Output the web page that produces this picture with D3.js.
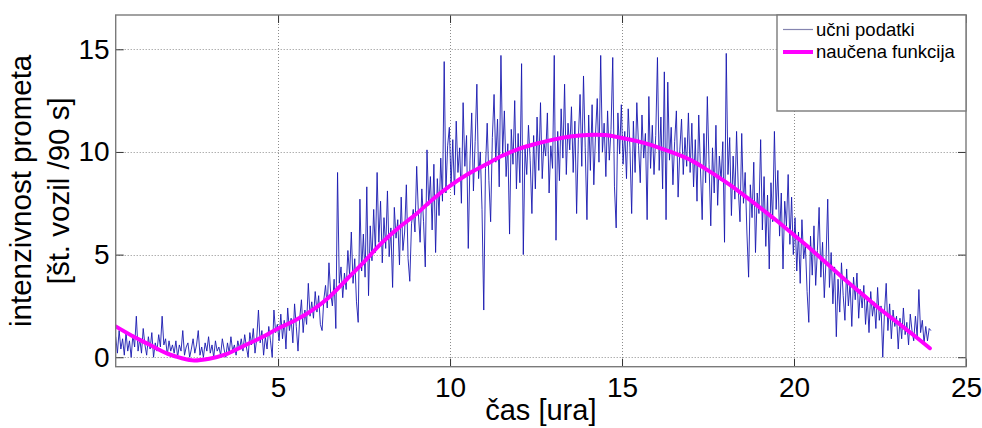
<!DOCTYPE html>
<html>
<head>
<meta charset="utf-8">
<script src="https://cdn.jsdelivr.net/npm/d3@7"></script>
<style>
  body { margin: 0; background: #fff; }
  svg { display: block; font-family: "Liberation Sans", Arial, sans-serif; }
</style>
</head>
<body>
<script>
// chart settings
var W = 982, H = 428;
var box = { left: 115.7, top: 15, right: 966, bottom: 366.7 };

// tick labels
var xTicks = [5, 10, 15, 20, 25];
var yTicks = [0, 5, 10, 15];

var sampleStart = 0.28, sampleStep = 0.05;
var sampleValues = [
  // 0.28 - 0.93
  1.0, 0.2, 1.3, 0.4, 0.9, 0.1, 1.2, 0.3, 0.8, 0.0, 1.1, 0.5, 2.0, 0.3,
  // 1
  0.9, 0.2, 1.4, 0.6, 0.1, 1.0, 0.4, 1.2, 0.0, 0.7, 0.3, 1.1, 0.5, 2.0, 0.6, 0.9, 0.1, 0.8, 0.3, 0.6,
  // 2
  0.2, 0.8, 0.0, 0.6, 0.3, 1.3, 0.1, 0.5, 0.7, 0.0, 0.4, 0.9, 0.2, 0.6, 1.3, 0.1, 0.5, 0.0, 0.7, 0.3,
  // 3
  1.0, 0.2, 0.6, 0.0, 0.8, 0.3, 0.5, 0.1, 0.9, 0.4, 0.0, 0.7, 0.2, 1.0, 0.3, 0.6, 0.1, 0.8, 0.4, 0.9,
  // 4
  0.3, 1.1, 0.5, 0.0, 1.2, 0.6, 1.4, 0.2, 0.9, 2.3, 0.7, 1.3, 0.1, 1.0, 0.4, 1.5, 0.8, 0.0, 2.3, 1.2,
  // 5
  1.6, 0.8, 2.1, 0.9, 1.8, 0.4, 2.4, 1.3, 1.9, 0.7, 2.6, 1.5, 0.3, 1.9, 2.8, 1.2, 2.3, 1.6, 3.6, 2.0,
  // 6
  2.7, 1.9, 3.2, 2.2, 3.0, 1.6, 1.3, 2.8, 3.5, 2.4, 4.6, 3.1, 2.5, 3.8, 1.4, 9.0, 3.6, 4.4, 2.9, 4.1,
  // 7
  3.3, 5.2, 4.0, 6.1, 3.6, 4.8, 2.7, 1.7, 7.7, 4.2, 6.0, 3.9, 8.3, 3.0, 6.4, 4.7, 7.2, 5.1, 9.0, 5.6,
  // 8
  7.6, 4.6, 6.8, 5.3, 8.1, 4.9, 6.3, 3.4, 7.3, 5.8, 6.7, 4.5, 7.8, 5.2, 6.1, 8.4, 4.8, 3.7, 6.5, 7.2,
  // 9
  6.1, 9.3, 7.0, 5.6, 8.2, 6.6, 4.4, 10.1, 7.4, 8.8, 6.2, 9.4, 5.1, 8.7, 6.9, 9.7, 7.6, 14.4, 8.0, 10.3,
  // 10
  11.2, 8.4, 10.6, 7.9, 11.5, 9.0, 10.2, 7.5, 12.4, 9.3, 10.8, 5.3, 9.6, 11.9, 8.1, 10.5, 13.3, 8.7, 10.0, 7.2,
  // 11
  2.3, 9.2, 11.4, 8.6, 6.6, 10.7, 12.8, 9.5, 11.6, 8.3, 14.7, 9.9, 12.0, 8.8, 10.4, 6.0, 11.1, 9.4, 12.5, 8.2,
  // 12
  10.9, 8.5, 14.3, 5.0, 10.2, 8.9, 11.3, 9.6, 7.0, 10.8, 8.2, 11.7, 9.1, 12.4, 8.7, 10.5, 9.8, 11.9, 8.0, 10.3,
  // 13
  9.2, 14.7, 5.7, 11.0, 8.6, 12.1, 9.7, 13.3, 8.9, 11.4, 10.1, 12.2, 9.0, 11.5, 7.0, 10.6, 12.8, 9.3, 13.7, 10.2,
  // 14
  6.7, 11.8, 9.1, 12.3, 8.4, 10.9, 12.6, 9.5, 14.7, 10.0, 11.4, 8.8, 12.0, 9.6, 11.1, 14.6, 8.3, 6.3, 11.9, 9.9,
  // 15
  12.3, 9.4, 11.0, 8.7, 12.1, 10.2, 7.0, 11.5, 9.0, 12.4, 10.3, 8.5, 11.8, 9.7, 10.9, 6.7, 12.7, 9.2, 11.3, 8.9,
  // 16
  10.8, 14.6, 9.1, 11.7, 8.2, 13.9, 6.7, 13.4, 9.6, 11.2, 8.4, 10.5, 12.0, 7.8, 10.1, 11.6, 8.9, 10.7, 9.3, 11.9,
  // 17
  9.0, 11.4, 8.3, 10.6, 7.6, 11.8, 9.2, 6.7, 10.9, 8.5, 12.7, 9.4, 6.4, 10.2, 8.0, 11.3, 7.4, 9.8, 8.6, 10.5,
  // 18
  5.6, 14.8, 8.9, 10.7, 6.9, 9.8, 7.7, 11.0, 8.2, 6.6, 10.9, 7.5, 9.0, 6.1, 3.9, 8.4, 6.8, 9.5, 5.1, 8.0,
  // 19
  7.0, 10.6, 6.2, 8.8, 5.4, 7.9, 4.3, 8.5, 6.6, 11.0, 7.2, 9.1, 5.9, 8.0, 4.3, 7.6, 6.4, 8.9, 5.5, 7.8,
  // 20
  5.0, 6.8, 4.2, 6.1, 3.6, 6.7, 4.8, 5.5, 3.2, 1.7, 5.9, 4.0, 6.4, 3.5, 5.2, 7.3, 3.9, 5.6, 2.9, 4.7,
  // 21
  7.7, 3.4, 5.1, 2.6, 4.4, 1.0, 3.8, 2.2, 4.6, 3.0, 1.8, 4.3, 2.5, 3.6, 1.5, 3.9, 2.8, 4.1, 1.9, 3.3,
  // 22
  2.4, 3.5, 1.6, 2.9, 1.2, 3.2, 2.0, 2.7, 1.4, 3.4, 1.8, 2.5, 0.0, 2.2, 3.6, 1.3, 2.6, 0.9, 2.3, 1.5,
  // 23
  2.0, 0.4, 1.9, 0.9, 2.4, 1.1, 1.7, 0.6, 2.1, 1.3, 0.8, 2.0, 1.0, 3.3, 1.2, 1.8, 0.7, 1.5, 0.8, 1.4,
  // 24
  1.3
];

// learned function
var fitHours  = [0.28, 0.75, 1.25, 1.75, 2, 2.5, 3, 3.5, 4, 4.5, 5, 5.5, 6, 6.5, 7, 7.5, 8, 8.5, 9, 9.5,
                 10, 10.5, 11, 11.5, 12, 12.5, 13, 13.5, 14, 14.5, 15, 15.5, 16, 16.5, 17, 17.5, 18, 18.5,
                 19, 19.5, 20, 20.5, 21, 21.5, 22, 22.5, 23, 23.5, 23.95];
var fitValues = [1.50, 1.05, 0.62, 0.20, 0.05, -0.15, -0.07, 0.15, 0.55, 0.95, 1.40, 1.80, 2.30, 2.95, 3.80, 4.65, 5.55, 6.30, 6.95, 7.70,
                 8.35, 8.90, 9.35, 9.80, 10.15, 10.40, 10.60, 10.75, 10.83, 10.82, 10.68, 10.50, 10.25, 9.95, 9.60, 9.10, 8.55, 7.95,
                 7.30, 6.65, 5.95, 5.25, 4.50, 3.75, 3.05, 2.35, 1.70, 1.05, 0.44];

var legendLabels = ["učni podatki", "naučena funkcija"];

var samples = sampleValues.map(function (v, i) {
  return { t: sampleStart + i * sampleStep, v: v };
});
var fit = fitHours.map(function (t, i) { return { t: t, v: fitValues[i] }; });

var svg = d3.select('body').append('svg').attr('width', W).attr('height', H);

var x = d3.scaleLinear().domain([0.28, 25]).range([box.left, box.right]);
var y = d3.scaleLinear().domain([-0.46, 16.67]).range([box.bottom, box.top]);

var axisColor = '#7a7a7a';

// grid
var grid = svg.append('g').attr('stroke', '#8c8c8c').attr('stroke-width', 1).attr('stroke-dasharray', '1,2');
grid.selectAll('line.gx').data(xTicks.filter(function (d) { return d < 25; })).enter().append('line')
  .attr('x1', function (d) { return Math.round(x(d)) + 0.5; }).attr('x2', function (d) { return Math.round(x(d)) + 0.5; })
  .attr('y1', box.top).attr('y2', box.bottom);
grid.selectAll('line.gy').data(yTicks).enter().append('line')
  .attr('y1', function (d) { return Math.round(y(d)) + 0.5; }).attr('y2', function (d) { return Math.round(y(d)) + 0.5; })
  .attr('x1', box.left).attr('x2', box.right);

svg.append('clipPath').attr('id', 'plotclip').append('rect')
  .attr('x', box.left).attr('y', box.top).attr('width', box.right - box.left).attr('height', box.bottom - box.top);

// data line
var line = d3.line().x(function (d) { return x(d.t); }).y(function (d) { return y(d.v); });
svg.append('path').datum(samples).attr('clip-path', 'url(#plotclip)')
  .attr('d', line).attr('fill', 'none').attr('stroke', '#1818b0').attr('stroke-width', 0.9);

// learned function
var fitLine = d3.line().curve(d3.curveCatmullRom.alpha(0.5))
  .x(function (d) { return x(d.t); }).y(function (d) { return y(d.v); });
svg.append('path').datum(fit).attr('clip-path', 'url(#plotclip)')
  .attr('d', fitLine).attr('fill', 'none').attr('stroke', '#ff00ff').attr('stroke-width', 4)
  .attr('stroke-linecap', 'round');

// axes with inward ticks on all four sides
function styleAxis(g) {
  g.select('.domain').remove();
  g.selectAll('.tick line').attr('stroke', '#333').attr('stroke-width', 1);
  g.selectAll('.tick text').attr('fill', '#000').attr('font-size', 28);
}
svg.append('g').attr('transform', 'translate(0,' + box.bottom + ')')
  .call(d3.axisBottom(x).tickValues(xTicks).tickSize(-8).tickPadding(10).tickFormat(d3.format('d')))
  .call(styleAxis);
svg.append('g').attr('transform', 'translate(0,' + box.top + ')')
  .call(d3.axisTop(x).tickValues(xTicks).tickSize(-8).tickFormat(''))
  .call(styleAxis);
svg.append('g').attr('transform', 'translate(' + box.left + ',0)')
  .call(d3.axisLeft(y).tickValues(yTicks).tickSize(-8).tickPadding(6).tickFormat(d3.format('d')))
  .call(styleAxis);
svg.append('g').attr('transform', 'translate(' + box.right + ',0)')
  .call(d3.axisRight(y).tickValues(yTicks).tickSize(-8).tickFormat(''))
  .call(styleAxis);

svg.append('rect').attr('x', box.left).attr('y', box.top)
  .attr('width', box.right - box.left).attr('height', box.bottom - box.top)
  .attr('fill', 'none').attr('stroke', axisColor).attr('stroke-width', 1.4);

// axis titles
svg.append('text').attr('x', (box.left + box.right) / 2).attr('y', 420)
  .attr('text-anchor', 'middle').attr('font-size', 29).text('čas [ura]');
var cy = (box.top + box.bottom) / 2;
svg.append('text').attr('transform', 'translate(30.6,' + cy + ') rotate(-90)')
  .attr('text-anchor', 'middle').attr('font-size', 29.5).text('intenzivnost prometa');
svg.append('text').attr('transform', 'translate(69,' + cy + ') rotate(-90)')
  .attr('text-anchor', 'middle').attr('font-size', 29.5).text('[št. vozil /90 s]');

// legend
var legend = svg.append('g');
legend.append('rect').attr('x', 777).attr('y', box.top).attr('width', box.right - 777).attr('height', 111 - box.top)
  .attr('fill', '#fff').attr('stroke', axisColor).attr('stroke-width', 1.4);
var legendStyles = [{ c: '#8585b0', w: 1.2 }, { c: '#ff00ff', w: 4 }];
legendLabels.forEach(function (lab, i) {
  var ly = 29.5 + i * 22.5;
  legend.append('line').attr('x1', 783).attr('x2', 813).attr('y1', ly).attr('y2', ly)
    .attr('stroke', legendStyles[i].c).attr('stroke-width', legendStyles[i].w);
  legend.append('text').attr('x', 816).attr('y', ly + 6.3).attr('font-size', 18.5).text(lab);
});
</script>
</body>
</html>
